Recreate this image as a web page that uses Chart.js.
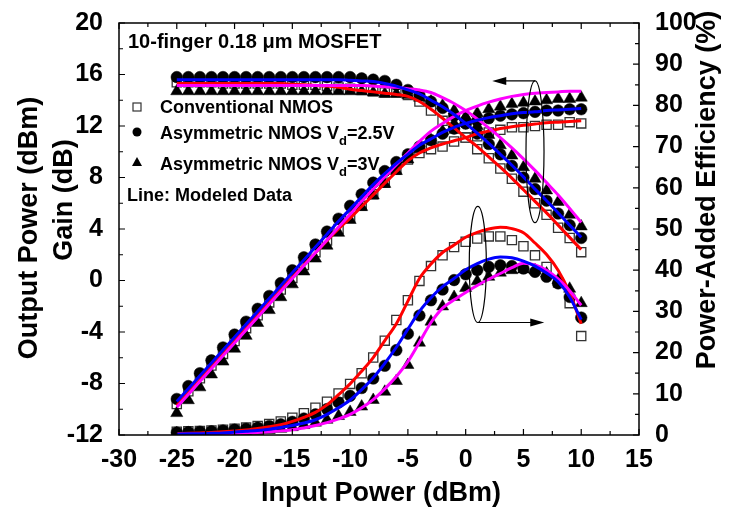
<!DOCTYPE html>
<html lang="en">
<head>
    <meta charset="UTF-8">
    <title>10-finger 0.18 um MOSFET - Pout, Gain, PAE</title>
    <style>
        html, body { margin: 0; padding: 0; background: #fff; }
        #wrap { width: 729px; height: 515px; }
    </style>
</head>
<body>

<div id="wrap">
    <canvas id="paChart" width="729" height="515"></canvas>
</div>

<script src="https://cdn.jsdelivr.net/npm/chart.js@4.4.0/dist/chart.umd.min.js"></script>
<script>
// input power sweep (dBm)
var pinDbm = [-25,-24,-23,-22,-21,-20,-19,-18,-17,-16,-15,-14,-13,-12,-11,-10,-9,-8,-7,-6,-5,-4,-3,-2,-1,0,1,2,3,4,5,6,7,8,9,10];

// measured: conventional NMOS (squares)
var poutConv = [-9.6,-8.6,-7.6,-6.6,-5.7,-4.7,-3.7,-2.7,-1.7,-0.7,0.2,1.2,2.2,3.1,4.0,4.9,5.8,6.7,7.6,8.6,9.4,9.9,10.2,10.4,10.8,11.1,11.2,11.5,11.7,11.9,11.9,12.0,12.1,12.1,12.3,12.2];
var gainConv = [15.4,15.4,15.4,15.4,15.3,15.3,15.3,15.3,15.3,15.3,15.2,15.2,15.2,15.1,15.0,14.9,14.8,14.7,14.6,14.6,14.4,13.9,13.2,12.4,11.8,11.1,10.2,9.5,8.7,7.9,6.9,6.0,5.1,4.1,3.3,2.2];
var paeConv = [0.8,0.9,1.0,1.1,1.3,1.5,1.8,2.2,2.7,3.3,4.2,5.3,6.6,8.1,10.1,12.4,15.0,18.8,22.9,27.9,32.7,37.4,41.0,43.6,45.6,46.9,47.7,48.2,48.2,47.3,45.8,43.6,40.8,37.0,32.0,24.0];

// measured: asymmetric NMOS Vd=2.5V (circles)
var poutAsym25 = [-9.2,-8.2,-7.2,-6.2,-5.2,-4.2,-3.2,-2.2,-1.2,-0.2,0.8,1.8,2.8,3.8,4.8,5.8,6.7,7.6,8.5,9.2,9.8,10.4,10.9,11.4,11.8,12.2,12.4,12.6,12.8,12.9,13.0,13.1,13.2,13.2,13.3,13.3];
var gainAsym25 = [15.8,15.8,15.8,15.8,15.8,15.8,15.8,15.8,15.8,15.8,15.8,15.8,15.8,15.8,15.8,15.8,15.7,15.6,15.5,15.2,14.8,14.4,13.9,13.4,12.8,12.2,11.4,10.6,9.8,8.9,8.0,7.1,6.2,5.2,4.3,3.3];
var paeAsym25 = [0.6,0.7,0.8,0.9,1.1,1.3,1.5,1.8,2.2,2.6,3.2,4.0,5.0,6.3,7.9,9.5,11.4,13.7,16.8,20.6,24.6,29.0,32.7,35.3,37.6,39.0,40.0,40.8,41.2,41.0,40.4,39.6,38.4,36.8,33.5,28.5];

// measured: asymmetric NMOS Vd=3V (triangles)
var poutAsym3 = [-10.3,-9.3,-8.3,-7.3,-6.3,-5.3,-4.3,-3.3,-2.3,-1.3,-0.3,0.7,1.7,2.7,3.7,4.7,5.7,6.6,7.5,8.5,9.4,10.2,10.9,11.6,12.2,12.7,13.0,13.3,13.5,13.7,13.8,13.9,14.0,14.1,14.1,14.2];
var gainAsym3 = [14.7,14.7,14.7,14.7,14.7,14.7,14.7,14.7,14.7,14.7,14.7,14.7,14.7,14.7,14.7,14.7,14.7,14.6,14.5,14.5,14.4,14.2,13.9,13.6,13.2,12.7,12.0,11.3,10.5,9.7,8.8,7.9,7.0,6.1,5.1,4.2];
var paeAsym3 = [0.4,0.4,0.5,0.5,0.6,0.7,0.8,1.0,1.2,1.5,1.9,2.4,3.0,3.7,4.6,5.6,6.9,8.5,10.5,13.1,17.0,22.4,27.5,31.2,33.5,35.7,37.3,38.4,39.4,40.0,40.2,40.0,39.2,37.6,35.5,32.0];

// modeled data (lines)
var modelPoutConv = [-9.7,-8.7,-7.7,-6.7,-5.7,-4.7,-3.7,-2.7,-1.7,-0.7,0.25,1.2,2.15,3.1,4.0,4.85,5.75,6.65,7.55,8.45,9.3,9.9,10.3,10.6,10.85,11.1,11.4,11.6,11.8,11.95,12.05,12.15,12.25,12.3,12.35,12.4];
var modelGainConv = [15.3,15.3,15.3,15.3,15.3,15.3,15.3,15.3,15.3,15.3,15.25,15.2,15.15,15.1,15.0,14.85,14.75,14.65,14.55,14.45,14.3,13.9,13.3,12.6,11.85,11.1,10.4,9.6,8.8,7.95,7.05,6.15,5.25,4.3,3.35,2.4];
var modelPaeConv = [0.3,0.4,0.5,0.6,0.8,1.0,1.2,1.6,2.0,2.5,3.3,4.3,5.5,7.3,9.8,12.4,15.5,18.8,22.9,27.0,32.5,38.0,41.5,44.3,46.1,48.0,49.2,50.0,50.4,50.1,49.1,46.6,43.8,40.0,34.5,27.0];

var modelPoutAsym25 = [-9.4,-8.4,-7.4,-6.4,-5.4,-4.4,-3.4,-2.4,-1.4,-0.4,0.6,1.6,2.6,3.6,4.6,5.55,6.5,7.45,8.3,9.1,9.8,10.5,11.0,11.5,11.9,12.2,12.45,12.65,12.8,12.95,13.05,13.1,13.2,13.25,13.3,13.35];
var modelGainAsym25 = [15.6,15.6,15.6,15.6,15.6,15.6,15.6,15.6,15.6,15.6,15.6,15.6,15.6,15.6,15.6,15.55,15.5,15.45,15.3,15.1,14.8,14.5,14.0,13.5,12.9,12.2,11.45,10.65,9.8,8.95,8.05,7.1,6.2,5.25,4.3,3.35];
var modelPaeAsym25 = [0.2,0.3,0.3,0.4,0.5,0.7,0.9,1.1,1.4,1.8,2.3,2.9,3.7,5.0,6.6,8.5,11.0,13.9,17.4,21.3,25.7,30.0,33.3,36.0,38.0,40.1,41.6,42.7,43.2,43.0,42.2,41.0,39.3,37.2,33.5,28.0];

var modelPoutAsym3 = [-9.85,-8.85,-7.85,-6.85,-5.85,-4.85,-3.85,-2.85,-1.85,-0.85,0.15,1.15,2.15,3.15,4.15,5.15,6.15,7.1,8.05,9.0,9.9,10.8,11.6,12.2,12.75,13.2,13.55,13.85,14.1,14.3,14.45,14.55,14.6,14.65,14.7,14.7];
var modelGainAsym3 = [15.15,15.15,15.15,15.15,15.15,15.15,15.15,15.15,15.15,15.15,15.15,15.15,15.15,15.15,15.15,15.15,15.15,15.1,15.05,15.0,14.9,14.8,14.6,14.2,13.75,13.2,12.55,11.85,11.1,10.3,9.45,8.55,7.6,6.65,5.6,4.5];
var modelPaeAsym3 = [0.2,0.2,0.2,0.3,0.3,0.4,0.5,0.6,0.8,1.0,1.3,1.7,2.3,3.0,3.9,5.0,6.6,8.6,11.2,14.2,17.8,22.5,27.3,30.8,32.8,34.6,36.3,37.8,39.2,40.6,41.7,41.3,40.0,37.9,35.0,31.5];

var FONT = "'Liberation Sans', Arial, Helvetica, sans-serif";

function pts(ys) {
    return pinDbm.map(function (x, i) { return { x: x, y: ys[i] }; });
}

function modelLine(ys, color, axis) {
    return {
        data: pts(ys), yAxisID: axis, showLine: true,
        borderColor: color, borderWidth: 3, pointRadius: 0,
        cubicInterpolationMode: 'monotone', fill: false
    };
}

function markers(ys, style, axis) {
    var ds = { data: pts(ys), yAxisID: axis, showLine: false, pointStyle: style };
    if (style === 'rect') {
        ds.pointRadius = 6.5; ds.backgroundColor = '#fff'; ds.borderColor = '#333'; ds.borderWidth = 1.3;
    } else if (style === 'triangle') {
        ds.pointRadius = 7; ds.backgroundColor = '#000'; ds.borderColor = '#000'; ds.borderWidth = 0.5;
    } else {
        ds.pointRadius = 5.8; ds.backgroundColor = '#000'; ds.borderColor = '#000'; ds.borderWidth = 0.5;
    }
    return ds;
}

// first datasets are painted last, so the model lines go first
var datasets = [
    modelLine(modelPoutAsym25, '#0000ff', 'y'),
    modelLine(modelGainAsym25, '#0000ff', 'y'),
    modelLine(modelPaeAsym25, '#0000ff', 'pae'),
    modelLine(modelPoutAsym3, '#ff00ff', 'y'),
    modelLine(modelGainAsym3, '#ff00ff', 'y'),
    modelLine(modelPaeAsym3, '#ff00ff', 'pae'),
    modelLine(modelPoutConv, '#ff0000', 'y'),
    modelLine(modelGainConv, '#ff0000', 'y'),
    modelLine(modelPaeConv, '#ff0000', 'pae'),
    markers(poutAsym3, 'triangle', 'y'),
    markers(gainAsym3, 'triangle', 'y'),
    markers(paeAsym3, 'triangle', 'pae'),
    markers(poutAsym25, 'circle', 'y'),
    markers(gainAsym25, 'circle', 'y'),
    markers(paeAsym25, 'circle', 'pae'),
    markers(poutConv, 'rect', 'y'),
    markers(gainConv, 'rect', 'y'),
    markers(paeConv, 'rect', 'pae')
];

// ellipse + arrow callouts, in data units
var callouts = [
    { x: 6.0, y: 10.0, rx: 0.78, ry: 5.5, axis: 'y', arrowFrom: 'top', arrowTo: 2.3 },
    { x: 1.05, y: 41.4, rx: 0.74, ry: 14.1, axis: 'pae', arrowFrom: 'bottom', arrowTo: 6.8 }
];

var tickFont = { family: FONT, size: 25, weight: 'bold' };

function drawInwardTicks(ctx, area, scale, dir) {
    var vals = scale.ticks.map(function (t) { return t.value; });
    var step = vals[1] - vals[0];
    vals.forEach(function (v) {
        [v, v + step / 2].forEach(function (tv, k) {
            if (tv > scale.max) return;
            var len = k === 0 ? 6 : 4;
            var p = scale.getPixelForValue(tv);
            if (dir === 'x') {
                ctx.moveTo(p, area.bottom); ctx.lineTo(p, area.bottom - len);
                ctx.moveTo(p, area.top); ctx.lineTo(p, area.top + len);
            } else if (dir === 'left') {
                ctx.moveTo(area.left, p); ctx.lineTo(area.left + len, p);
            } else {
                ctx.moveTo(area.right, p); ctx.lineTo(area.right - len, p);
            }
        });
    });
}

function drawArrow(ctx, x0, y0, x1, y1) {
    var dir = x1 > x0 ? 1 : -1;
    ctx.beginPath();
    ctx.moveTo(x0, y0); ctx.lineTo(x1 - dir * 10, y1);
    ctx.stroke();
    ctx.beginPath();
    ctx.moveTo(x1, y1);
    ctx.lineTo(x1 - dir * 14, y1 - 4);
    ctx.lineTo(x1 - dir * 14, y1 + 4);
    ctx.closePath();
    ctx.fill();
}

function drawSubText(ctx, x, y, parts) {
    parts.forEach(function (p) {
        ctx.font = p.sub ? 'bold 13px ' + FONT : 'bold 18px ' + FONT;
        ctx.fillText(p.t, x, p.sub ? y + 6 : y);
        x += ctx.measureText(p.t).width;
    });
}

var decorations = {
    id: 'decorations',
    afterDraw: function (chart) {
        var ctx = chart.ctx, a = chart.chartArea, s = chart.scales;
        ctx.save();

        // frame + inward ticks
        ctx.strokeStyle = '#000';
        ctx.lineWidth = 1.5;
        ctx.strokeRect(a.left, a.top, a.right - a.left, a.bottom - a.top);
        ctx.lineWidth = 1.2;
        ctx.beginPath();
        drawInwardTicks(ctx, a, s.x, 'x');
        drawInwardTicks(ctx, a, s.y, 'left');
        drawInwardTicks(ctx, a, s.pae, 'right');
        ctx.stroke();

        // callouts
        ctx.fillStyle = '#000';
        ctx.lineWidth = 1.2;
        callouts.forEach(function (c) {
            var ys = s[c.axis];
            var cx = s.x.getPixelForValue(c.x), cy = ys.getPixelForValue(c.y);
            var rx = Math.abs(s.x.getPixelForValue(c.x + c.rx) - cx);
            var ry = Math.abs(ys.getPixelForValue(c.y + c.ry) - cy);
            ctx.beginPath();
            ctx.ellipse(cx, cy, rx, ry, 0, 0, Math.PI * 2);
            ctx.stroke();
            var ay = c.arrowFrom === 'top' ? cy - ry : cy + ry;
            drawArrow(ctx, cx, ay, s.x.getPixelForValue(c.arrowTo), ay);
        });

        // legend block
        ctx.textAlign = 'left';
        ctx.textBaseline = 'alphabetic';
        ctx.font = 'bold 20px ' + FONT;
        ctx.fillText('10-finger 0.18 \u03bcm MOSFET', 128, 48);

        ctx.lineWidth = 1.2;
        ctx.strokeStyle = '#333';
        ctx.fillStyle = '#fff';
        ctx.fillRect(133, 103, 8, 8);
        ctx.strokeRect(133, 103, 8, 8);
        ctx.fillStyle = '#000';
        ctx.beginPath();
        ctx.arc(137, 132, 4.5, 0, Math.PI * 2);
        ctx.fill();
        ctx.beginPath();
        ctx.moveTo(137, 157); ctx.lineTo(142, 166); ctx.lineTo(132, 166);
        ctx.closePath();
        ctx.fill();

        ctx.font = 'bold 18px ' + FONT;
        ctx.fillText('Conventional NMOS', 160, 113);
        drawSubText(ctx, 160, 139, [{ t: 'Asymmetric NMOS V' }, { t: 'd', sub: true }, { t: '=2.5V' }]);
        drawSubText(ctx, 160, 170, [{ t: 'Asymmetric NMOS V' }, { t: 'd', sub: true }, { t: '=3V' }]);
        ctx.font = 'bold 18px ' + FONT;
        ctx.fillText('Line: Modeled Data', 127, 201);

        // axis titles
        ctx.textAlign = 'center';
        ctx.textBaseline = 'middle';
        ctx.font = 'bold 27px ' + FONT;
        ctx.fillText('Input Power (dBm)', 381, 494);

        ctx.save();
        ctx.translate(30, 228);
        ctx.rotate(-Math.PI / 2);
        ctx.fillText('Output Power (dBm)', 0, 0);
        ctx.restore();

        ctx.save();
        ctx.translate(65, 200);
        ctx.rotate(-Math.PI / 2);
        ctx.fillText('Gain (dB)', 0, 0);
        ctx.restore();

        ctx.save();
        ctx.translate(708, 190);
        ctx.rotate(-Math.PI / 2);
        ctx.fillText('Power-Added Efficiency (%)', 0, 0);
        ctx.restore();

        ctx.restore();
    }
};

new Chart(document.getElementById('paChart'), {
    type: 'scatter',
    data: { datasets: datasets },
    options: {
        responsive: false,
        animation: false,
        devicePixelRatio: 1,
        layout: { padding: { top: 22, left: 0, right: 0, bottom: 0 } },
        plugins: { legend: { display: false }, tooltip: { enabled: false } },
        scales: {
            x: {
                type: 'linear', min: -30, max: 15,
                ticks: { stepSize: 5, autoSkip: false, maxRotation: 0, padding: 2, color: '#000', font: tickFont },
                grid: { display: false }, border: { display: false },
                afterFit: function (sc) { sc.height = 80; }
            },
            y: {
                type: 'linear', position: 'left', min: -12, max: 20,
                ticks: { stepSize: 4, padding: 8, color: '#000', font: tickFont },
                grid: { display: false }, border: { display: false },
                afterFit: function (sc) { sc.width = 119; }
            },
            pae: {
                type: 'linear', position: 'right', min: 0, max: 100,
                ticks: { stepSize: 10, padding: 8, color: '#000', font: tickFont },
                grid: { display: false }, border: { display: false },
                afterFit: function (sc) { sc.width = 90; }
            }
        }
    },
    plugins: [decorations]
});
</script>
</body>
</html>
